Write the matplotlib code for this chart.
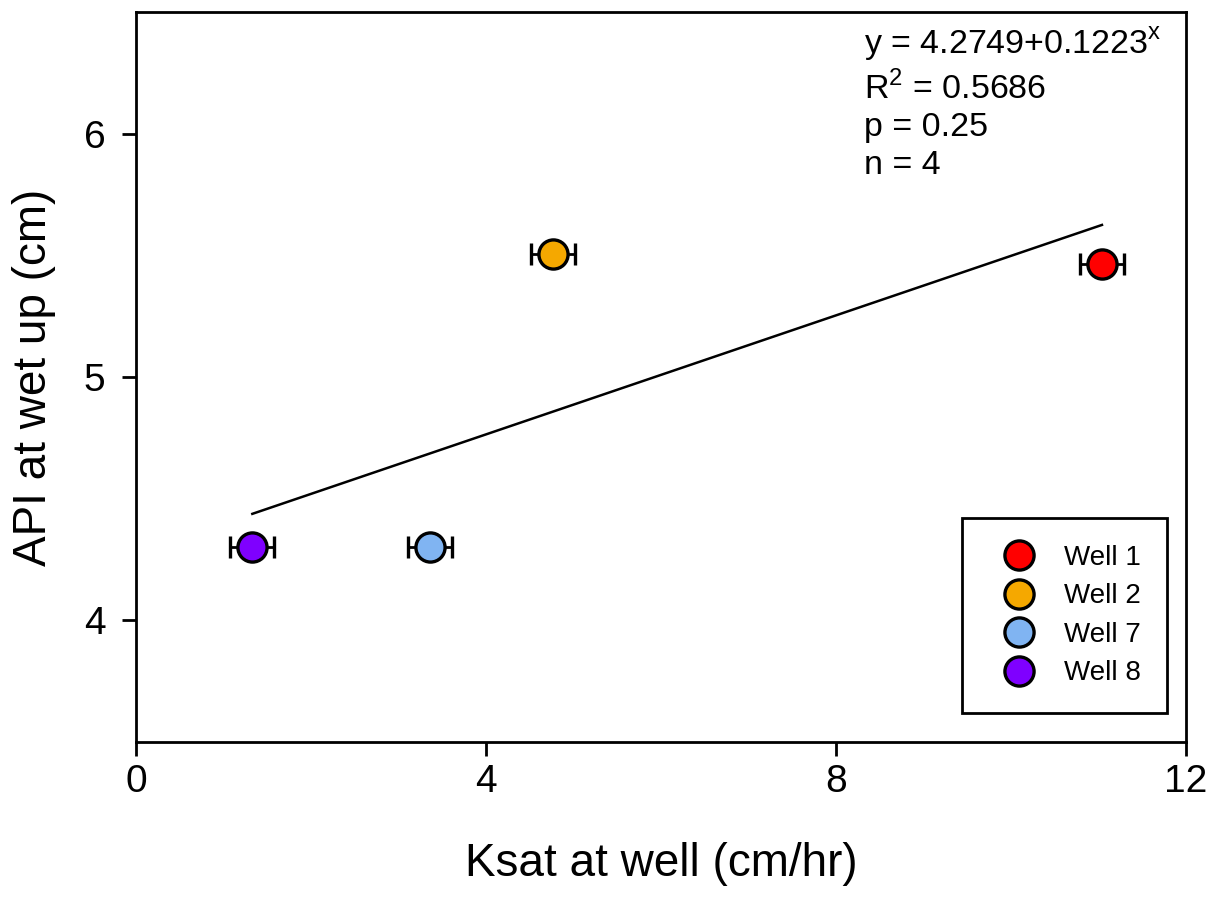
import matplotlib
matplotlib.use("Agg")
import matplotlib.pyplot as plt
import numpy as np

plt.rcParams['font.family'] = ['Liberation Sans', 'DejaVu Sans']

wells = ["Well 1", "Well 2", "Well 7", "Well 8"]
ksat = [11.04, 4.77, 3.36, 1.33]
ksat_err = [0.25, 0.25, 0.25, 0.25]
api = [5.465, 5.505, 4.30, 4.30]
colors = ["#ff0000", "#f5a800", "#80b4f2", "#7f00ff"]

intercept = 4.2749
slope = 0.1223


def plot(output_file):
    fig = plt.figure(figsize=(12.16, 9), dpi=100)
    ax = fig.add_axes([0.1118, 0.1756, 0.8635, 0.811])

    # regression line over the data range
    xs = np.array([min(ksat), max(ksat)])
    ax.plot(xs, intercept + slope * xs, color="black", lw=1.8, zorder=2)

    for name, x, xe, y, c in zip(wells, ksat, ksat_err, api, colors):
        ax.errorbar(x, y, xerr=xe, fmt='o', color="black", ecolor="black",
                    elinewidth=2, capsize=8, capthick=2.2,
                    markerfacecolor=c, markeredgecolor="black",
                    markeredgewidth=2.4, markersize=21, label=name, zorder=3)

    ax.set_xlim(0, 12)
    ax.set_ylim(3.5, 6.5)
    ax.set_xticks([0, 4, 8, 12])
    ax.set_yticks([4, 5, 6])
    ax.tick_params(direction='out', length=10, width=2, labelsize=28)
    ax.tick_params(axis='x', pad=6)
    ax.tick_params(axis='y', pad=12)
    for s in ax.spines.values():
        s.set_linewidth(2)

    ax.set_xlabel("Ksat at well (cm/hr)", fontsize=33, labelpad=30)
    ax.set_ylabel("API at wet up (cm)", fontsize=33, labelpad=20)

    txt = ("y = 4.2749+0.1223$^{\\mathregular{x}}$\n"
           "R$^{\\mathregular{2}}$ = 0.5686\np = 0.25\nn = 4")
    ax.text(0.693, 0.982, txt, transform=ax.transAxes, fontsize=24.5,
            va='top', ha='left', linespacing=1.27)

    handles, labels = ax.get_legend_handles_labels()
    handles = [h[0] for h in handles]
    leg = ax.legend(handles, labels, loc='lower right',
                    bbox_to_anchor=(0.982, 0.04), fontsize=20,
                    frameon=True, fancybox=False, edgecolor="black",
                    framealpha=1, borderpad=0.95, labelspacing=0.45,
                    handletextpad=0.5, borderaxespad=0.0, markerscale=1.0,
                    handlelength=2.2)
    leg.get_frame().set_linewidth(2)

    plt.savefig(output_file)


def main():
    plot("out.png")


if __name__ == "__main__":
    main()
